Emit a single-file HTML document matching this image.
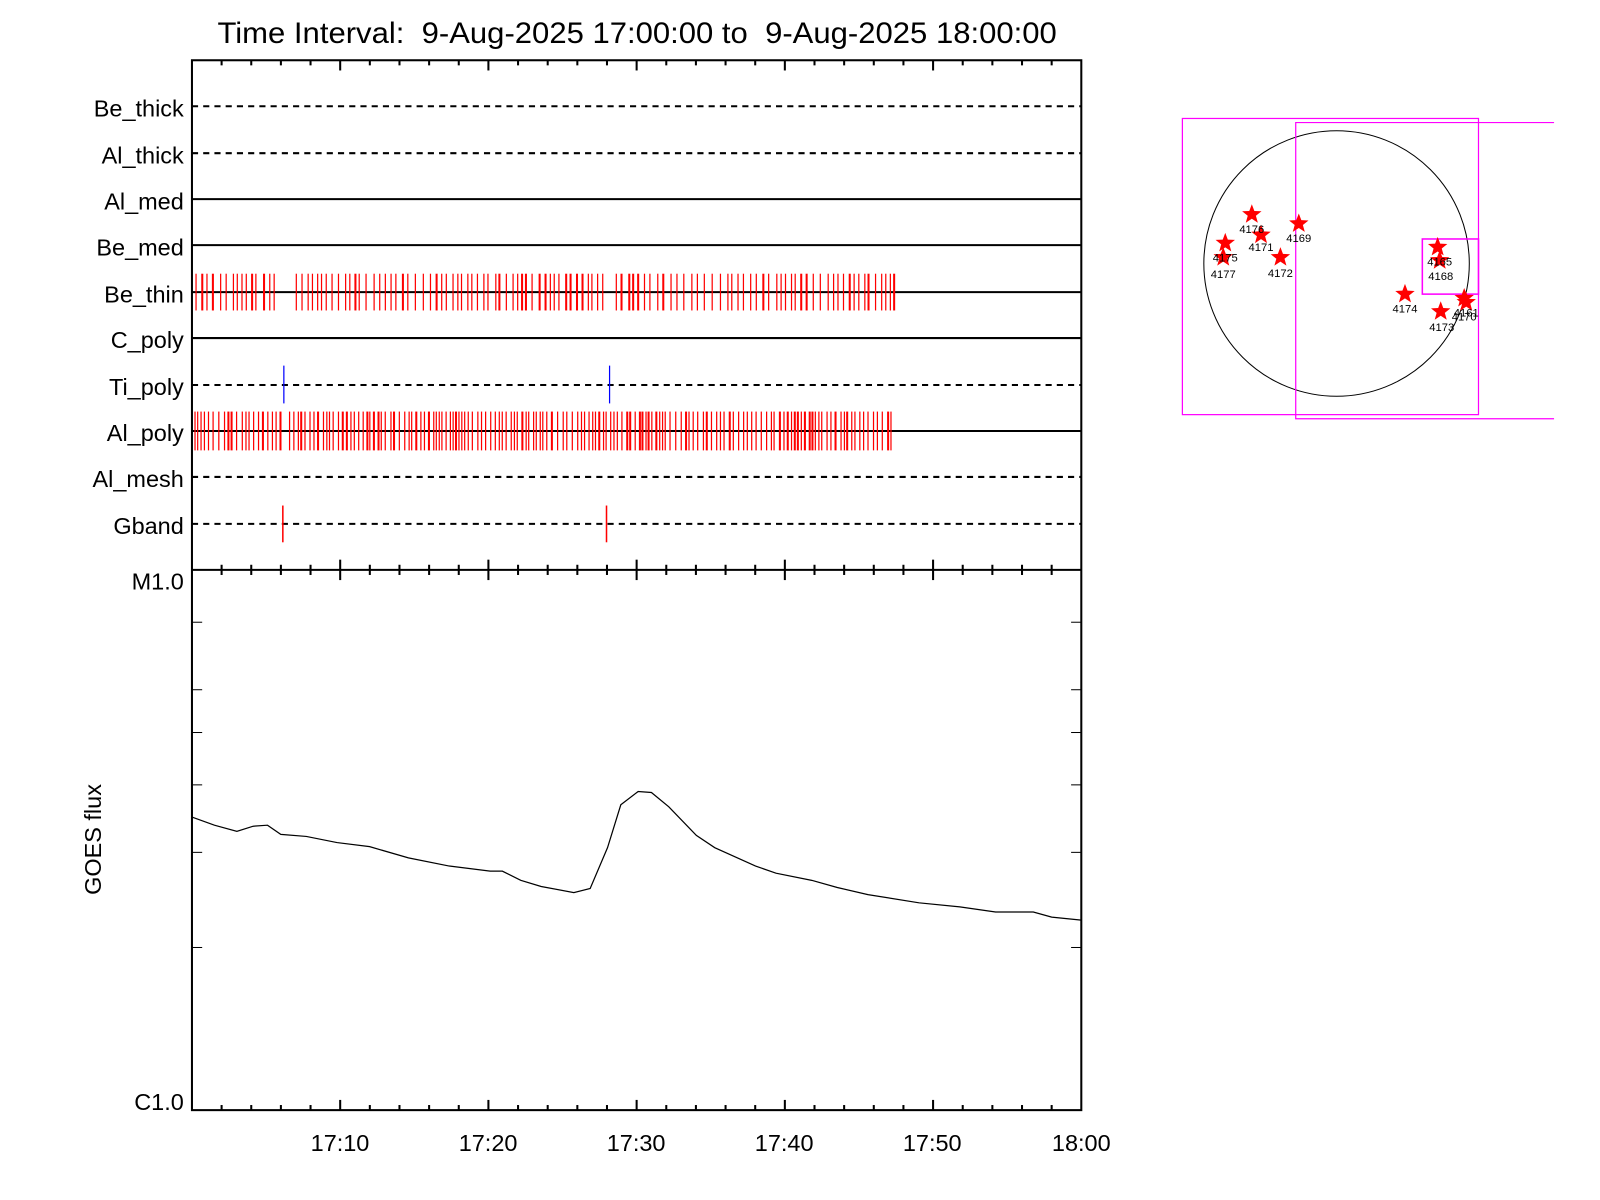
<!DOCTYPE html>
<html><head><meta charset="utf-8"><style>
html,body{margin:0;padding:0;background:#fff;}
svg{display:block;}
text{font-family:"Liberation Sans",sans-serif;white-space:pre;}
</style></head><body>
<svg id="s" width="1600" height="1200" viewBox="0 0 1567 1175" preserveAspectRatio="none" xmlns="http://www.w3.org/2000/svg" xml:space="preserve">
<rect width="1567" height="1175" fill="#fff"/>
<text x="624" y="42" font-size="29" text-anchor="middle" textLength="822" lengthAdjust="spacingAndGlyphs">Time Interval:  9-Aug-2025 17:00:00 to  9-Aug-2025 18:00:00</text>
<g id="rows"></g>
<g id="ticks" stroke="#000" stroke-width="2"></g>
<rect x="188" y="59" width="871" height="1028" fill="none" stroke="#000" stroke-width="2"/>
<line x1="188" y1="558" x2="1059" y2="558" stroke="#000" stroke-width="2"/>
<g font-size="23" text-anchor="end">
<text x="180" y="114">Be_thick</text>
<text x="180" y="160">Al_thick</text>
<text x="180" y="205">Al_med</text>
<text x="180" y="250">Be_med</text>
<text x="180" y="296">Be_thin</text>
<text x="180" y="341">C_poly</text>
<text x="180" y="387">Ti_poly</text>
<text x="180" y="432">Al_poly</text>
<text x="180" y="477">Al_mesh</text>
<text x="180" y="523">Gband</text>
<text x="180" y="577">M1.0</text>
<text x="180" y="1087">C1.0</text>
</g>
<g font-size="23" text-anchor="middle">
<text x="333" y="1127">17:10</text><text x="478" y="1127">17:20</text><text x="623" y="1127">17:30</text>
<text x="768" y="1127">17:40</text><text x="913" y="1127">17:50</text><text x="1059" y="1127">18:00</text>
</g>
<text x="99" y="822" font-size="23" text-anchor="middle" transform="rotate(-90 99 822)">GOES flux</text>
<polyline fill="none" stroke="#000" stroke-width="1.2" points="188,800 210,808 232,814 248,809 262,808 275,817 300,819 330,825 362,829 400,840 440,848 480,853 492,853 510,862 530,868 562,874 578,870 595,830 608,788 625,775 638,776 655,790 682,818 700,830 740,848 760,855 795,862 820,869 850,876 900,884 940,888 975,893 1012,893 1030,898 1059,901"/>
<circle cx="1309" cy="258" r="130" fill="none" stroke="#000" stroke-width="1"/>
<rect x="1158" y="116" width="290" height="290" fill="none" stroke="#f0f" stroke-width="1.2"/>
<polyline points="1522,120 1269,120 1269,410 1522,410" fill="none" stroke="#f0f" stroke-width="1.2"/>
<rect x="1393" y="234" width="55" height="54" fill="none" stroke="#f0f" stroke-width="1.5"/>
<g id="stars" fill="red"></g>
<g font-size="11" text-anchor="middle" fill="#000">
<text x="1226" y="228">4176</text><text x="1235" y="246">4171</text><text x="1272" y="237">4169</text>
<text x="1200" y="256">4175</text><text x="1198" y="272">4177</text><text x="1254" y="271">4172</text>
<text x="1410" y="260">4165</text><text x="1411" y="274">4168</text><text x="1376" y="306">4174</text>
<text x="1412" y="324">4173</text><text x="1436" y="310">4161</text><text x="1434" y="314">4170</text>
</g>
</svg>
<script>
var NS="http://www.w3.org/2000/svg";
function el(p,t,a){var e=document.createElementNS(NS,t);for(var k in a)e.setAttribute(k,a[k]);document.getElementById(p).appendChild(e);return e;}
var rows=[[104,1],[150,1],[195,0],[240,0],[286,0],[331,0],[377,1],[422,0],[467,1],[513,1]];
rows.forEach(function(r){el("rows","line",{x1:188,x2:1059,y1:r[0],y2:r[0],stroke:"#000","stroke-width":2,"stroke-dasharray":r[1]?"6,5":"none"});});
var seed=7;function rnd(){seed=(seed*9301+49297)%233280;return seed/233280;}
function bars(y,h,x0,x1,gaps,sp){var x=x0;while(x<=x1){var g=false;gaps.forEach(function(q){if(x>q[0]&&x<q[1])g=true;});if(!g)el("rows","line",{x1:x.toFixed(1),x2:x.toFixed(1),y1:y-h,y2:y+h,stroke:"red","stroke-width":rnd()<0.2?2:1.2});x+=sp*(0.6+rnd()*0.8);}}
bars(286,18,192,877,[[272,286],[591,603]],5.8);
bars(422,19,191,876,[[277,283]],4.1);
[278,597].forEach(function(x){el("rows","line",{x1:x,x2:x,y1:358,y2:395,stroke:"blue","stroke-width":1.2});});
[277,594].forEach(function(x){el("rows","line",{x1:x,x2:x,y1:495,y2:531,stroke:"red","stroke-width":1.5});});
for(var i=1;i<30;i++){var x=188+i*871/30;var maj=(i%5==0);var L=maj?10:5;
el("ticks","line",{x1:x,x2:x,y1:59,y2:59+L});
el("ticks","line",{x1:x,x2:x,y1:558-L,y2:558+L});
el("ticks","line",{x1:x,x2:x,y1:1087,y2:1087-L});}
[2,3,4,5,6,8].forEach(function(v){var y=1087-Math.log10(v)*529;
el("ticks","line",{x1:188,x2:198,y1:y,y2:y,"stroke-width":1});
el("ticks","line",{x1:1059,x2:1049,y1:y,y2:y,"stroke-width":1});});
function star(cx,cy,R){var p=[];for(var k=0;k<10;k++){var r=k%2?R*0.42:R;var a=-Math.PI/2+k*Math.PI/5;p.push((cx+r*Math.cos(a)).toFixed(1)+","+(cy+r*Math.sin(a)).toFixed(1));}el("stars","polygon",{points:p.join(" ")});}
[[1226,210],[1235,230],[1272,219],[1200,238],[1198,252],[1254,252],[1408,242],[1410,255],[1376,288],[1411,305],[1434,292],[1436,296]].forEach(function(s){star(s[0],s[1],10);});
</script>
</body></html>
